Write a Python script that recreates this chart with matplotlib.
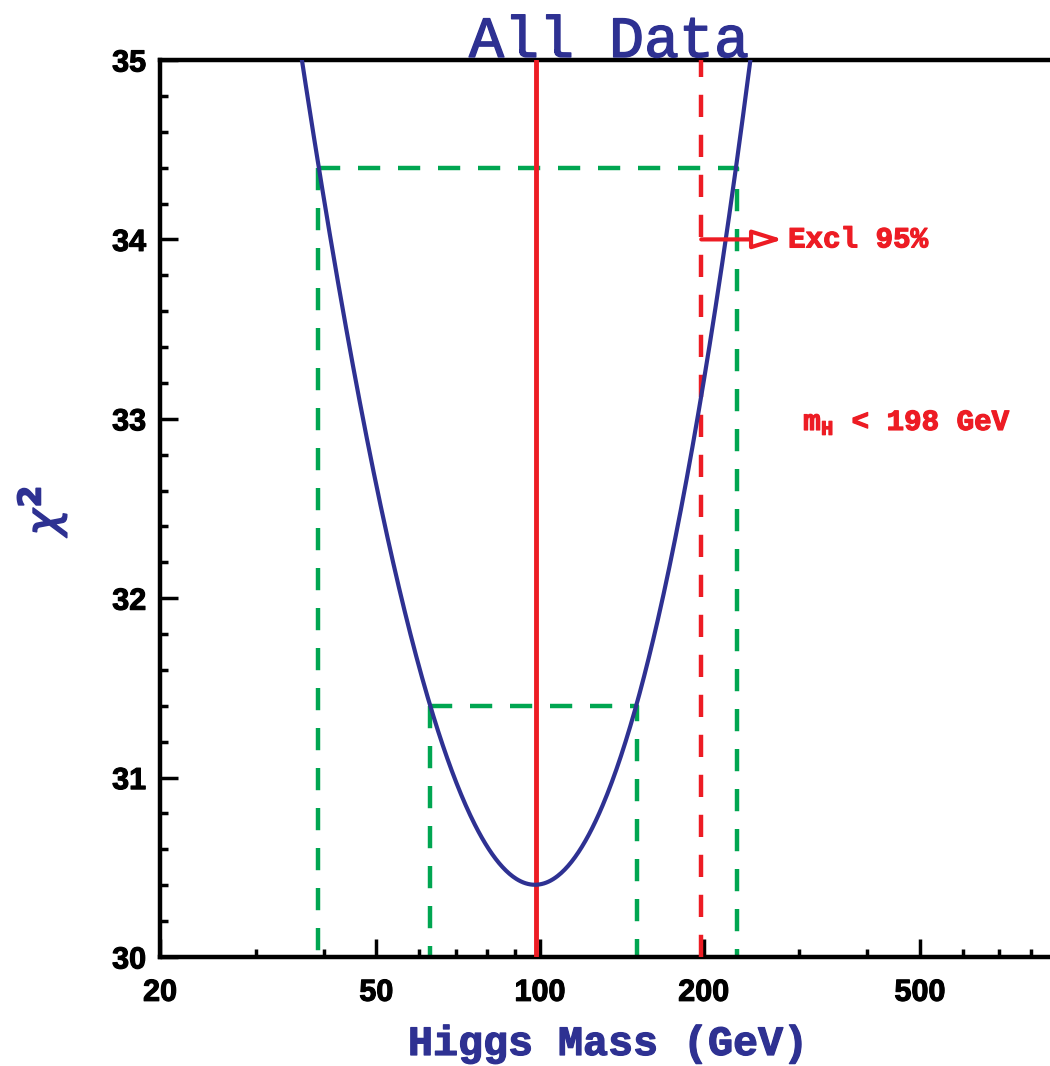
import numpy as np
import matplotlib
matplotlib.use("Agg")
import matplotlib.pyplot as plt
import matplotlib.patheffects as pe

# ---- data ----
mass = [36.5, 39.1, 43.8, 50.0, 55.3, 62.8, 71.3, 82.1, 89.3, 98.4,
        112.0, 129.0, 150.7, 166.3, 184.0, 197.0, 219.0, 230.2, 243.6]
chi2 = [35.0, 34.4, 33.57, 32.62, 32.01, 31.40, 30.93, 30.58, 30.45, 30.40,
        30.50, 30.79, 31.40, 31.97, 32.56, 33.10, 34.00, 34.40, 35.0]

best_fit = 98.4
excl_limit = 198.0
band_1sig = (62.8, 150.7, 31.4)   # left mass, right mass, chi2 level
band_2sig = (39.1, 230.2, 34.4)
arrow_y = 34.0
arrow_end = 280.0

x_major = [20, 50, 100, 200, 500]
x_minor = [30, 40, 60, 70, 80, 90, 300, 400, 600, 700, 800, 900]
y_major = [30, 31, 32, 33, 34, 35]

BLUE = "#2e3192"
RED = "#ed1c24"
GREEN = "#00a651"

# ---- smooth the read points (least-squares in log-mass) ----
lm = np.log10(mass)
coef = np.polyfit(lm, chi2, 4)
lgrid = np.linspace(lm[0] - 0.01, lm[-1] + 0.01, 400)
cx = 10**lgrid
cy = np.polyval(coef, lgrid)

W, H = 1050, 1066
fig = plt.figure(figsize=(W/100, H/100), dpi=100)
ax = fig.add_axes([160/W, 1-957/H, 923.6/W, 897/H])
ax.set_xscale("log")
ax.set_xlim(20, 1000)
ax.set_ylim(30, 35)

# green confidence bands
for xl, xr, lev in (band_2sig, band_1sig):
    ax.plot([xl, xr, xr], [lev, lev, 30], color=GREEN, lw=3.2,
            dashes=(5, 4), zorder=2)
    ax.plot([xl, xl], [lev, 30], color=GREEN, lw=3.2, dashes=(5, 4), zorder=2)

# red lines
ax.plot([best_fit, best_fit], [30, 35], color=RED, lw=3.5, zorder=3)
ax.plot([excl_limit, excl_limit], [30, 35], color=RED, lw=3.2,
        dashes=(5, 4), zorder=3)

# chi2 curve
ax.plot(cx, cy, color=BLUE, lw=3.0, zorder=4)

# arrow + texts
thick_red = [pe.withStroke(linewidth=0.9, foreground=RED)]
ax.annotate("", xy=(arrow_end, arrow_y), xytext=(excl_limit, arrow_y),
            arrowprops=dict(arrowstyle="-|>,head_length=0.9,head_width=0.28",
                            mutation_scale=20, fc="white", ec=RED, lw=3,
                            shrinkA=0, shrinkB=0), zorder=5)
ax.text(286, arrow_y, "Excl 95%", color=RED, fontsize=21,
        family="Liberation Mono", weight="bold", ha="left", va="center",
        path_effects=thick_red)
ax.text(305, 32.98, r"m$_\mathregular{H}$ < 198 GeV", color=RED, fontsize=21,
        family="Liberation Mono", weight="bold", ha="left", va="center",
        path_effects=thick_red)

# axes styling
for s in ("left", "bottom", "top"):
    ax.spines[s].set_linewidth(3.2)
ax.spines["right"].set_visible(False)
ax.set_xticks(x_major)
ax.set_xticklabels([str(v) for v in x_major])
ax.set_xticks(x_minor, minor=True)
ax.set_xticklabels([], minor=True)
ax.set_yticks(y_major)
ax.set_yticklabels([str(v) for v in y_major])
ax.set_yticks(np.arange(30, 35.01, 0.2), minor=True)
ax.tick_params(which="major", direction="in", length=13, width=2.5,
               top=False, right=False)
ax.tick_params(which="minor", direction="in", length=6, width=2.5,
               top=False, right=False)
ax.tick_params(axis="x", which="major", pad=15)
ax.tick_params(axis="y", which="major", pad=10)
for lab in ax.get_xticklabels() + ax.get_yticklabels():
    lab.set_fontfamily("Liberation Sans")
    lab.set_fontweight("bold")
    lab.set_fontsize(22)
    lab.set_path_effects([pe.withStroke(linewidth=0.8, foreground="black")])

# titles
fig.text(609/W, 1-57/H, "All Data", color=BLUE, fontsize=42,
         family="Liberation Mono", ha="center", va="baseline",
         path_effects=[pe.withStroke(linewidth=1.0, foreground=BLUE)])
fig.text(608/W, 1-1055/H, "Higgs Mass (GeV)", color=BLUE, fontsize=30,
         family="Liberation Mono", weight="bold", ha="center", va="baseline",
         path_effects=[pe.withStroke(linewidth=0.9, foreground=BLUE)])
fig.text(42/W, 1-510/H, r"$\chi^{\mathbf{2}}$", color=BLUE, fontsize=32,
         rotation=90, ha="center", va="center",
         path_effects=[pe.withStroke(linewidth=1.2, foreground=BLUE)])

fig.savefig("out.png", dpi=100)
